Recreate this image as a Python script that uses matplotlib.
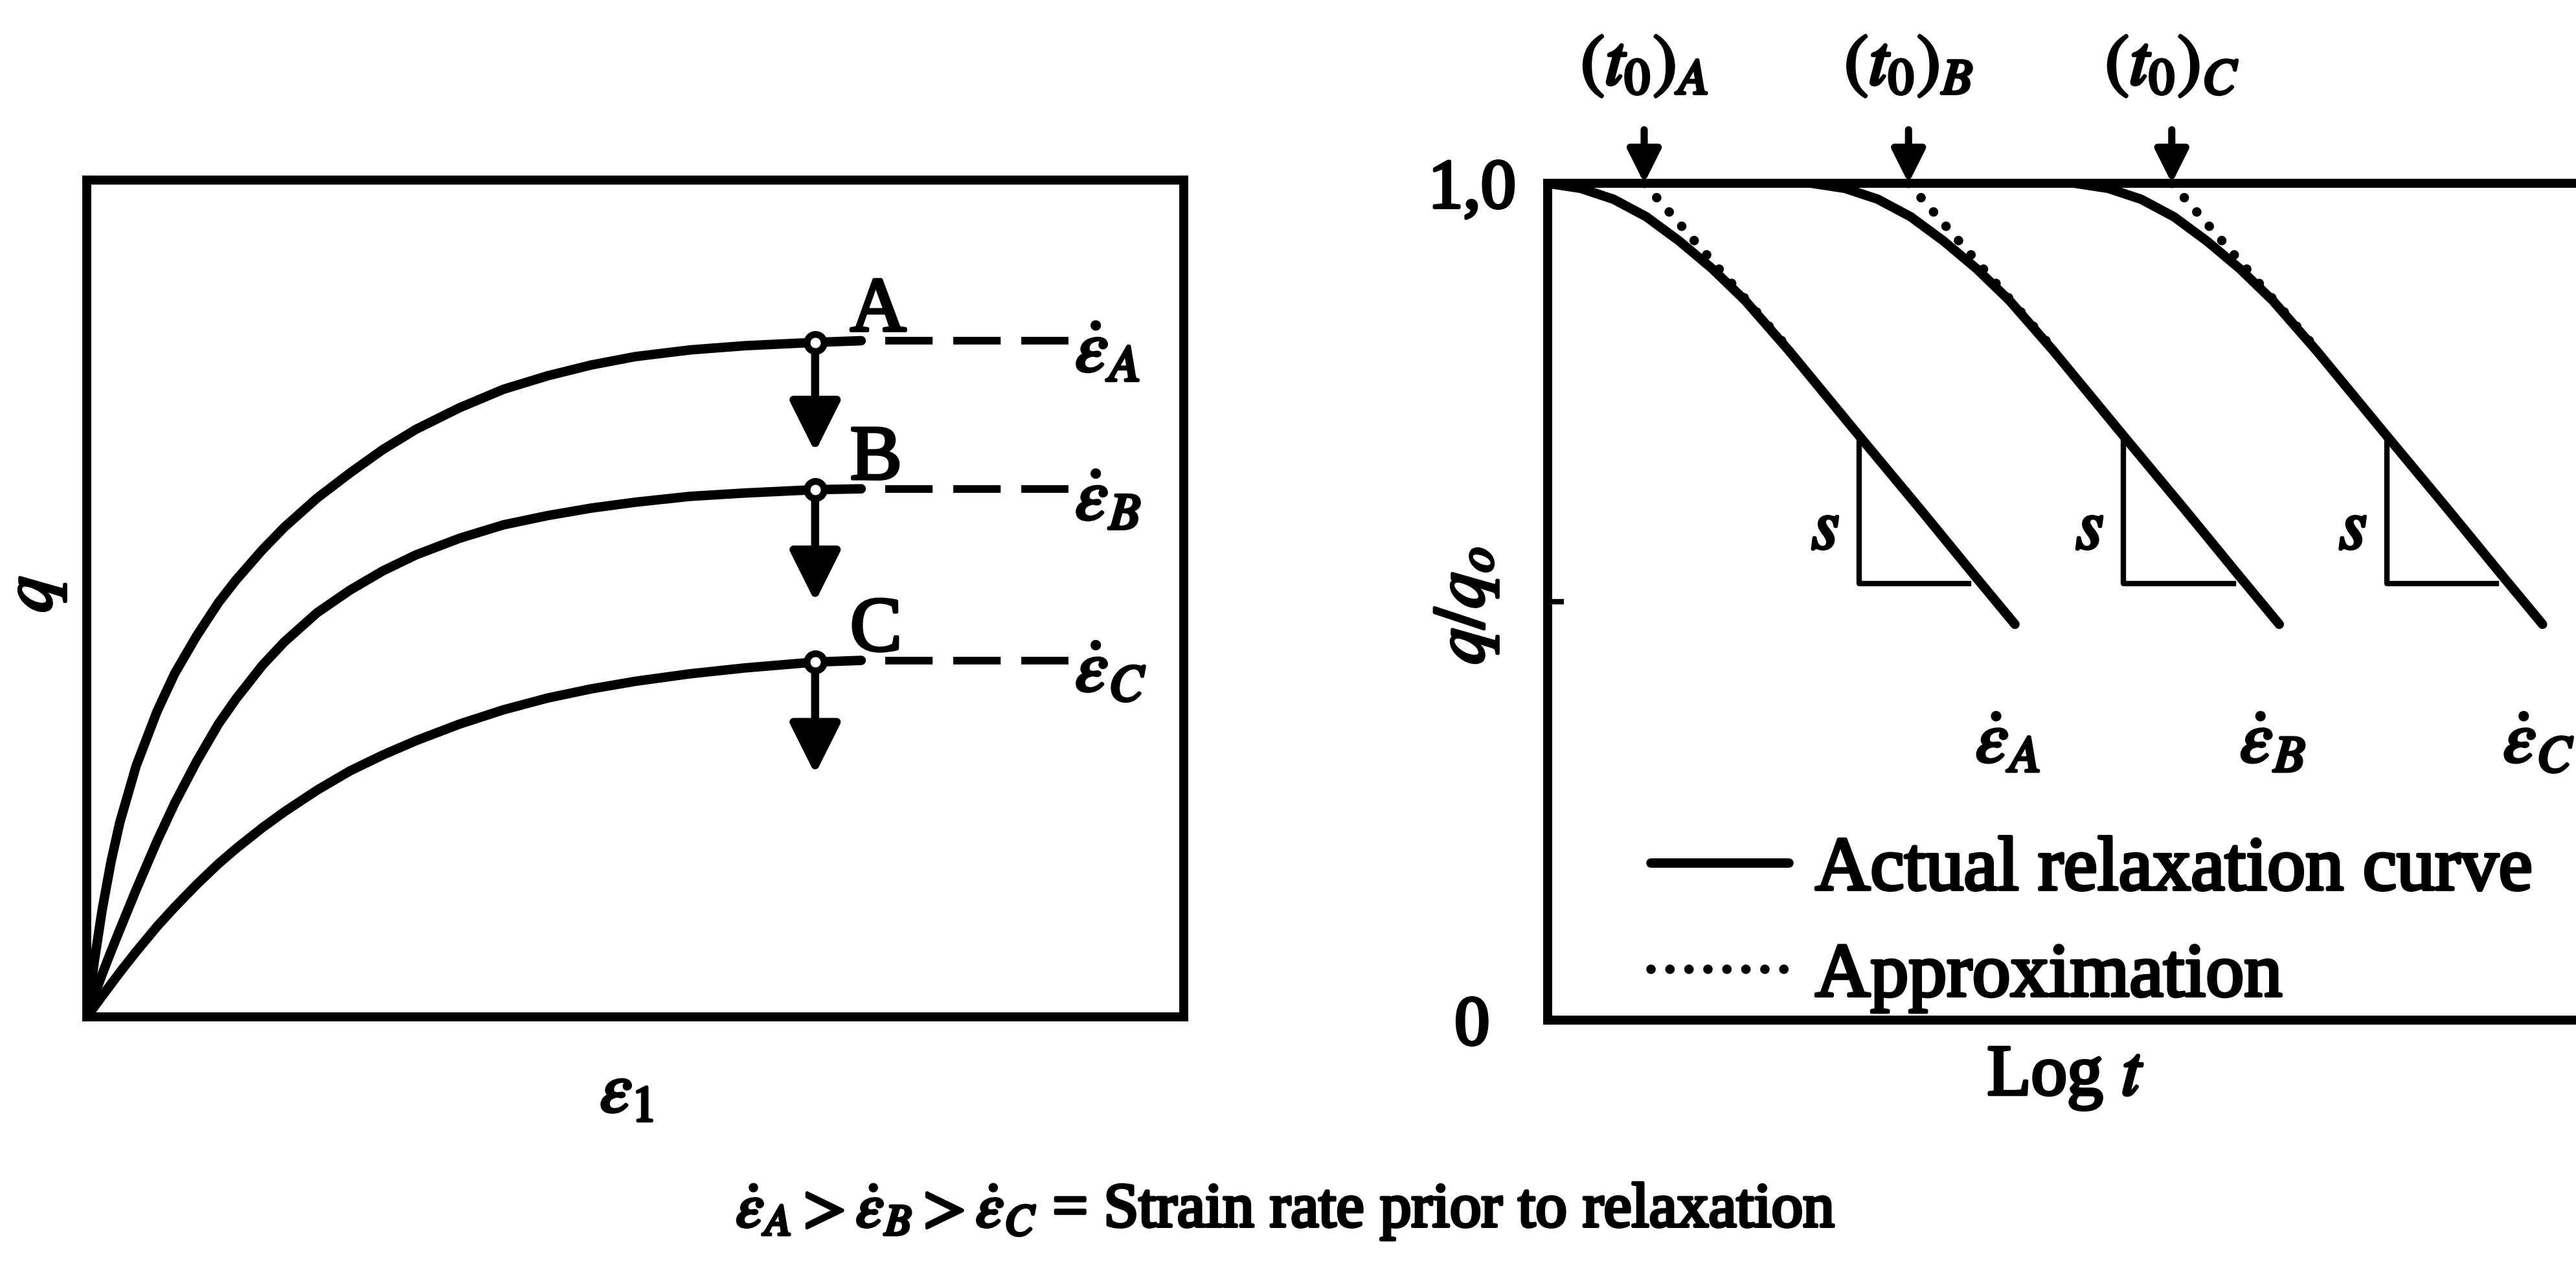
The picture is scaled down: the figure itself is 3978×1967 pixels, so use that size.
import matplotlib.pyplot as plt
from matplotlib import patheffects
from matplotlib.text import Text

plt.rcParams['font.family'] = 'Liberation Serif'
plt.rcParams['mathtext.fontset'] = 'stix'

# ---- left: q vs axial strain for three strain rates ----
rates = ['A', 'B', 'C']
strain = [0, 0.007, 0.014, 0.022, 0.03, 0.045, 0.064, 0.08, 0.10, 0.12, 0.136, 0.16, 0.18,
          0.21, 0.24, 0.27, 0.30, 0.34, 0.38, 0.42, 0.46, 0.50, 0.55, 0.60, 0.664, 0.706]
q_A = [0, 0.068, 0.128, 0.185, 0.232, 0.30, 0.365, 0.41, 0.455, 0.495, 0.522, 0.558, 0.585,
       0.62, 0.65, 0.678, 0.702, 0.728, 0.75, 0.766, 0.779, 0.789, 0.797, 0.802, 0.806, 0.808]
q_B = [0, 0.026, 0.051, 0.078, 0.104, 0.152, 0.21, 0.255, 0.305, 0.35, 0.38, 0.42, 0.448,
       0.483, 0.51, 0.533, 0.552, 0.572, 0.588, 0.599, 0.608, 0.615, 0.622, 0.626, 0.630, 0.631]
q_C = [0, 0.0125, 0.025, 0.039, 0.053, 0.078, 0.108, 0.131, 0.158, 0.183, 0.201, 0.226, 0.245,
       0.271, 0.294, 0.313, 0.33, 0.35, 0.367, 0.381, 0.392, 0.401, 0.41, 0.417, 0.424, 0.426]
relax_strain = 0.664               # point where straining stops
q_relaxed = [0.675, 0.496, 0.290]  # where the drop arrows end
dash_start, dash_end = 0.728, 0.895

# ---- right: normalised relaxation curves vs log time ----
logt_A = [0.0, 0.03, 0.06, 0.09, 0.12, 0.15, 0.18, 0.22, 0.281, 0.34, 0.39, 0.426]
logt_B = [0.241, 0.271, 0.301, 0.331, 0.361, 0.391, 0.421, 0.461, 0.522, 0.581, 0.631, 0.667]
logt_C = [0.481, 0.511, 0.541, 0.571, 0.601, 0.631, 0.661, 0.701, 0.762, 0.821, 0.871, 0.907]
q_q0 = [1.0, 0.994, 0.981, 0.960, 0.931, 0.898, 0.860, 0.800, 0.703, 0.610, 0.530, 0.473]
t0 = [0.088, 0.329, 0.569]
approx_end_t = [0.22, 0.461, 0.701]
approx_end_q = 0.802
slope_x = [0.284, 0.525, 0.765]
slope_x_end = [0.384, 0.625, 0.865]
slope_top, slope_bottom = 0.698, 0.522

fig = plt.figure(figsize=(39.78, 19.67), dpi=100)
ax1 = fig.add_axes([0.0337, 0.2018, 0.4258, 0.6569])
ax2 = fig.add_axes([0.6008, 0.1993, 0.4258, 0.6568])

# left panel
i_relax = strain.index(relax_strain)
for r, q, q_end in zip(rates, [q_A, q_B, q_C], q_relaxed):
    ax1.plot(strain, q, color='k', lw=10.5, solid_capstyle='round', solid_joinstyle='round')
    q0 = q[i_relax]
    ax1.annotate('', xy=(relax_strain, q_end), xytext=(relax_strain, q0),
                 arrowprops=dict(arrowstyle='-|>', mutation_scale=120, lw=9,
                                 color='k', shrinkA=0, shrinkB=0))
    ax1.plot([relax_strain], [q0], 'o', ms=19, mfc='white', mec='k', mew=7.5, zorder=5)
    ax1.plot([dash_start, dash_end], [q[-1], q[-1]], color='k', lw=8.5, dashes=(6.2, 2.7))
    ax1.text(0.696, q[-1] + 0.012, r, va='baseline', ha='left', fontsize=86)
    ax1.text(0.901, q[-1] - 0.015, r'$\dot{\varepsilon}_%s$' % r, va='center', ha='left',
             fontsize=82)

ax1.set_xlim(0, 1)
ax1.set_ylim(0, 1)
ax1.set_xticks([])
ax1.set_yticks([])
ax1.set_xlabel(r'$\varepsilon_1$', fontsize=80, va='center')
ax1.xaxis.set_label_coords(0.492, -0.093)
ax1.set_ylabel(r'$q$', fontsize=80, va='center')
ax1.yaxis.set_label_coords(-0.047, 0.505)

# right panel
approx_lines = []
curve_lines = []
for r, lt, t, te, sx, sxe in zip(rates, [logt_A, logt_B, logt_C], t0, approx_end_t,
                                  slope_x, slope_x_end):
    ln_ap, = ax2.plot([t, te], [1.0, approx_end_q], color='k', lw=10.5,
                      dashes=(0.01, 2.0), dash_capstyle='round')
    ln_c, = ax2.plot(lt, q_q0, color='k', lw=10.5, solid_capstyle='round',
                     solid_joinstyle='round')
    approx_lines.append(ln_ap)
    curve_lines.append(ln_c)
    ax2.plot([sx, sx, sxe], [slope_top, slope_bottom, slope_bottom], color='k', lw=6)
    ax2.text(sx - 0.031, 0.584, r'$s$', ha='center', va='center', fontsize=80)
    ax2.text(lt[-1] - 0.036, 0.33, r'$\dot{\varepsilon}_%s$' % r, ha='left', va='center',
             fontsize=82)
    ax2.annotate('', xy=(t, 1.0), xytext=(t, 1.064),
                 arrowprops=dict(arrowstyle='-|>', mutation_scale=78, lw=8,
                                 color='k', shrinkA=0, shrinkB=0),
                 annotation_clip=False)
    ax2.text(t, 1.139, r'$(t_0)_%s$' % r, ha='center', va='center', fontsize=80,
             clip_on=False)

ax2.set_xlim(0, 1)
ax2.set_ylim(0, 1)
ax2.set_xticks([])
ax2.set_yticks([0, 0.5, 1.0])
ax2.set_yticklabels(['0', '', '1,0'], fontsize=78)
ax2.tick_params(axis='y', direction='in', length=18, width=6, pad=84, right=False)
for lbl in ax2.get_yticklabels():
    lbl.set_horizontalalignment('center')
ax2.spines['right'].set_visible(False)
ax2.set_xlabel('Log $t$', fontsize=80, va='center')
ax2.xaxis.set_label_coords(0.472, -0.070)
ax2.set_ylabel(r'$q/q_o$', fontsize=80, va='center')
ax2.yaxis.set_label_coords(-0.074, 0.495)

ax2.legend([curve_lines[0], approx_lines[0]], ['Actual relaxation curve', 'Approximation'],
           loc='upper left', bbox_to_anchor=(0.094, 0.22), frameon=False, fontsize=85,
           handlelength=1.8, handletextpad=0.35, labelspacing=0.48, borderpad=0,
           borderaxespad=0)

for ax in (ax1, ax2):
    for sp in ax.spines.values():
        sp.set_linewidth(10)
        sp.set_capstyle('projecting')

fig.text(0.499, 0.049,
         r'$\dot{\varepsilon}_A > \dot{\varepsilon}_B > \dot{\varepsilon}_C$ = Strain rate prior to relaxation',
         ha='center', va='center', fontsize=70)

# heavier strokes on all lettering
for t in fig.findobj(Text):
    t.set_path_effects([patheffects.withStroke(linewidth=3.5, foreground='k')])

fig.savefig('out.png', dpi=100)
